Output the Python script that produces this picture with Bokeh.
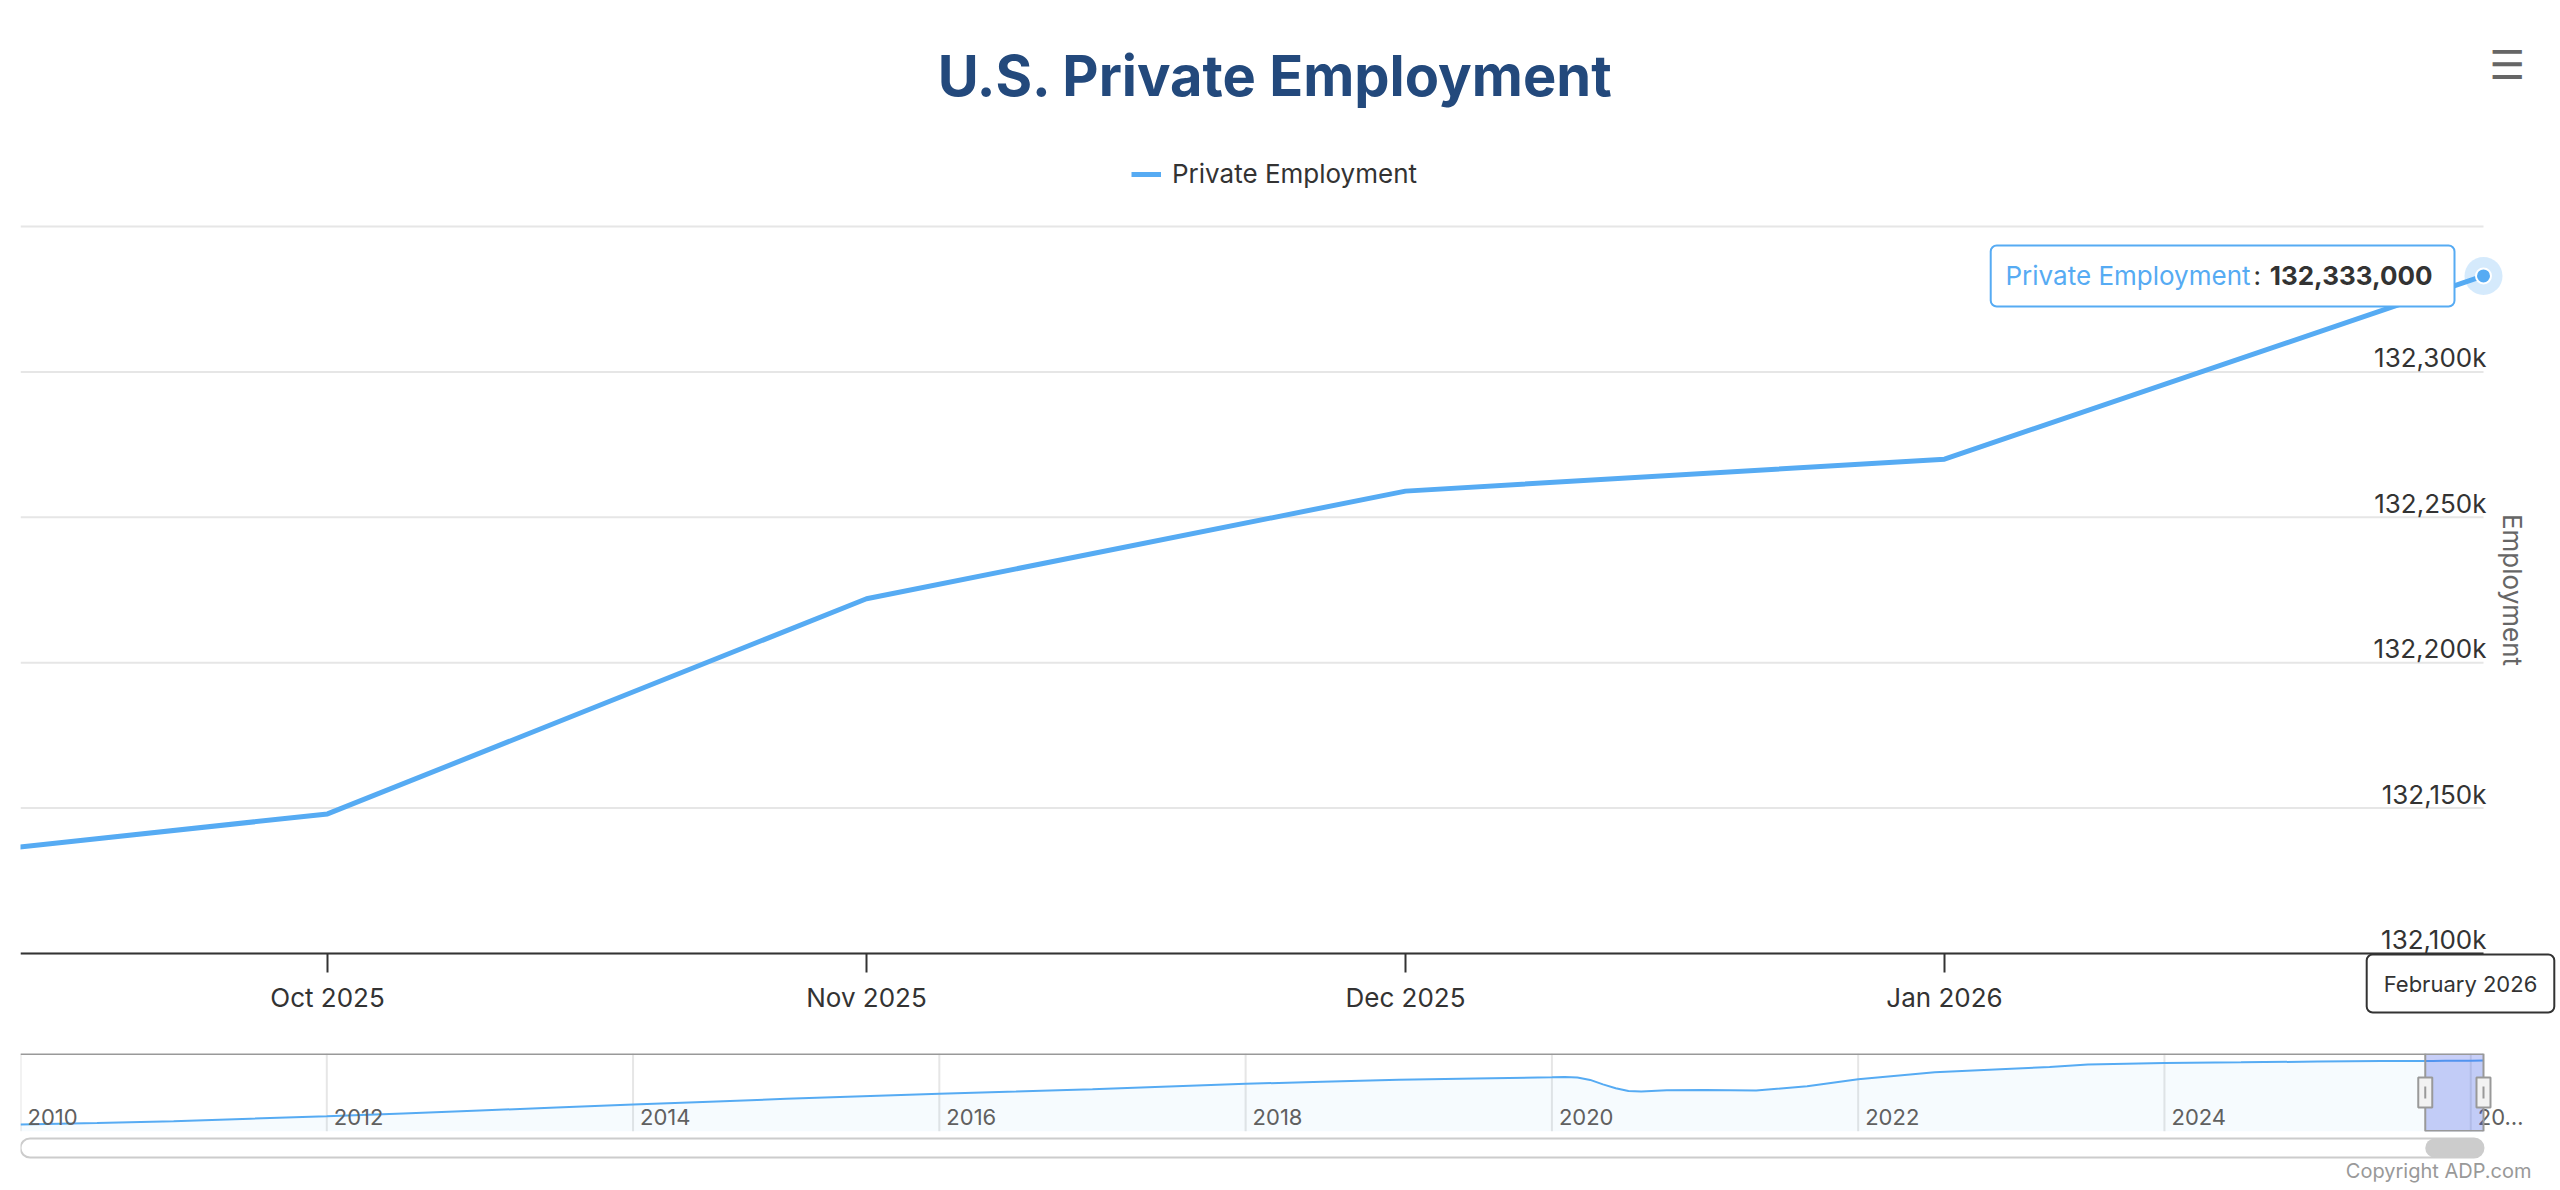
import math
from bokeh.plotting import figure
from bokeh.models import Range1d, Legend, LegendItem, Label
from bokeh.layouts import column
from bokeh.embed import file_html
from bokeh.resources import INLINE
from bokeh.core.properties import value

# ---------------- data ----------------
months = ["Sep 2025", "Oct 2025", "Nov 2025", "Dec 2025", "Jan 2026", "Feb 2026"]
month_index = [0, 1, 2, 3, 4, 5]
employment = [132128000, 132148000, 132222000, 132259000, 132270000, 132333000]

x_tick_index = [1, 2, 3, 4]
x_tick_labels = ["Oct 2025", "Nov 2025", "Dec 2025", "Jan 2026"]

y_grid_values = [132100000, 132150000, 132200000, 132250000, 132300000, 132350000]
y_tick_values = [132100000, 132150000, 132200000, 132250000, 132300000]
y_tick_labels = ["132,100k", "132,150k", "132,200k", "132,250k", "132,300k"]

series_name = "Private Employment"
chart_title = "U.S. Private Employment"
axis_title = "Employment"
tooltip_value = "132,333,000"
tooltip_date = "February 2026"
credits = "Copyright ADP.com"

# navigator (full history, millions)
nav_dates = ["2010-01", "2010-07", "2011-01", "2011-07", "2012-01", "2012-07", "2013-01", "2013-07",
             "2014-01", "2014-07", "2015-01", "2015-07", "2016-01", "2016-07", "2017-01", "2017-07",
             "2018-01", "2018-07", "2019-01", "2019-07", "2020-01", "2020-02", "2020-03", "2020-04",
             "2020-05", "2020-06", "2020-07", "2020-08", "2020-10", "2021-01", "2021-05", "2021-09",
             "2022-01", "2022-07", "2023-01", "2023-04", "2023-07", "2024-01", "2024-07", "2025-01",
             "2025-06", "2025-09", "2025-10", "2025-11", "2025-12", "2026-01", "2026-02"]
nav_values = [105.45, 106.10, 106.85, 107.90, 108.95, 110.10, 111.30, 112.60,
              113.85, 115.05, 116.25, 117.30, 118.35, 119.30, 120.30, 121.40,
              122.55, 123.45, 124.25, 124.80, 125.30, 125.40, 125.25, 124.20,
              122.30, 120.70, 119.50, 119.30, 119.80, 120.00, 119.70, 121.50,
              124.50, 127.40, 128.90, 129.60, 130.65, 131.35, 131.60, 131.90,
              132.10, 132.128, 132.148, 132.222, 132.259, 132.270, 132.333]
nav_year_ticks = [2010, 2012, 2014, 2016, 2018, 2020, 2022, 2024, 2026]
nav_year_labels = ["2010", "2012", "2014", "2016", "2018", "2020", "2022", "2024", "20\u2026"]
nav_selected = [2025.703, 2026.0833]

# ---------------- styles / layout ----------------
BLUE = "#56abf3"
FONT = "Inter"
W = 2556
LEFT = 20                       # left edge of plot area
FIG_A_H, FIG_B_H, FIG_C_H = 1040, 94, 52
PLOT_TOP, PLOT_BOTTOM = 226, 953   # pixel rows of the top and bottom grid lines
LAST_X_PX = 2483                   # pixel column of the last data point
MONTH_PX = 539                     # pixels per month


def bare(fig):
    fig.outline_line_color = None
    fig.background_fill_color = "white"
    fig.border_fill_color = "white"
    fig.grid.visible = False


# ---------------- main chart ----------------
x_start = 1 - (327 - LEFT) / MONTH_PX
x_end = month_index[-1] + (W - LAST_X_PX) / MONTH_PX
upp = (y_grid_values[-1] - y_grid_values[0]) / (PLOT_BOTTOM - PLOT_TOP)
y_start = y_grid_values[0] - (FIG_A_H - PLOT_BOTTOM) * upp
y_end = y_grid_values[-1] + PLOT_TOP * upp

p = figure(width=W, height=FIG_A_H, x_range=Range1d(x_start, x_end), y_range=Range1d(y_start, y_end),
           output_backend="svg", toolbar_location=None, x_axis_location=None, y_axis_location=None,
           min_border_left=LEFT, min_border_right=0, min_border_top=0, min_border_bottom=0)
bare(p)

# horizontal grid lines
n = len(y_grid_values)
p.segment(x0=[x_start] * n, x1=[month_index[-1]] * n, y0=y_grid_values, y1=y_grid_values,
          line_color="#e6e6e6", line_width=2)

# x axis
y0 = y_grid_values[0]
p.segment(x0=[x_start], x1=[month_index[-1]], y0=[y0], y1=[y0], line_color="#333333", line_width=2)
p.ray(x=x_tick_index, y=[y0] * len(x_tick_index), length=19, length_units="screen", angle=-math.pi / 2,
      line_color="#333333", line_width=2)
p.text(x=x_tick_index, y=[y0] * len(x_tick_index), text=x_tick_labels, text_align="center",
       text_baseline="middle", y_offset=44, text_font=value(FONT), text_font_size="26px",
       text_color="#333333")

# series
line = p.line(month_index, employment, line_color=BLUE, line_width=5, line_join="round")
p.scatter([month_index[-1]], [employment[-1]], size=38, fill_color=BLUE, fill_alpha=0.25, line_color=None)
p.scatter([month_index[-1]], [employment[-1]], size=15, fill_color=BLUE, line_color="white", line_width=2)

# y tick labels inside the plot area
p.text(x=[month_index[-1]] * len(y_tick_values), y=y_tick_values, text=y_tick_labels,
       text_align="right", text_baseline="middle", x_offset=3, y_offset=-14,
       text_font=value(FONT), text_font_size="26px", text_color="#333333")

# axis title
p.add_layout(Label(x=month_index[-1], y=(y_grid_values[0] + y_grid_values[-1]) / 2, text=axis_title,
                   angle=-math.pi / 2, x_offset=29, text_align="center", text_baseline="middle",
                   text_font=FONT, text_font_size="26px", text_color="#666666"))

# title
p.add_layout(Label(x=1275 - LEFT, y=FIG_A_H - 75, x_units="screen", y_units="screen", text=chart_title,
                   text_align="center", text_baseline="middle", text_font=FONT,
                   text_font_size="56px", text_font_style="bold", text_color="#23497c"))

# legend
legend = Legend(items=[LegendItem(label=series_name, renderers=[line])], orientation="horizontal",
                location=(1111, FIG_A_H - 189), border_line_color=None, background_fill_alpha=0,
                label_text_font=FONT, label_text_font_size="26px", label_text_color="#333333",
                glyph_width=30, glyph_height=20, label_standoff=11, margin=0, padding=0)
p.add_layout(legend)

# hamburger menu
p.add_layout(Label(x=2507 - LEFT, y=FIG_A_H - 64, x_units="screen", y_units="screen", text="\u2630",
                   text_align="center", text_baseline="middle", text_font="DejaVu Sans",
                   text_font_size="40px", text_font_style="bold", text_color="#666666"))

# tooltip for last point
p.add_layout(Label(x=month_index[-1], y=employment[-1], text=tooltip_value, x_offset=-29, y_offset=0,
                   text_align="right", text_baseline="middle", text_font=FONT, text_font_size="26px",
                   text_font_style="bold", text_color="#333333", background_fill_color="white",
                   border_line_color=BLUE, border_line_width=2, border_radius=6,
                   padding=dict(left=279, right=22, top=21, bottom=21)))
p.add_layout(Label(x=month_index[-1], y=employment[-1], text=series_name, x_offset=-478, y_offset=0,
                   text_align="left", text_baseline="middle", text_font=FONT, text_font_size="26px",
                   text_color=BLUE))
p.add_layout(Label(x=month_index[-1], y=employment[-1], text=":", x_offset=-230, y_offset=0,
                   text_align="left", text_baseline="middle", text_font=FONT, text_font_size="26px",
                   text_color="#333333"))

# x crosshair label
p.add_layout(Label(x=month_index[-1], y=y0, text=tooltip_date, x_offset=-23, y_offset=-30,
                   text_align="center", text_baseline="middle", text_font=FONT, text_font_size="22px",
                   text_color="#333333", background_fill_color="white", border_line_color="#333333",
                   border_line_width=2, border_radius=6, padding=dict(left=17, right=17, top=16, bottom=16)))

# ---------------- navigator ----------------
nav_x = [int(d[:4]) + (int(d[5:]) - 1) / 12 for d in nav_dates]
nav_lo, nav_hi = 102.5, 135.3
nav_end = nav_x[-1]
YEAR_PX = (LAST_X_PX - LEFT) / (nav_end - nav_year_ticks[0])
nav_range = Range1d(nav_year_ticks[0], nav_end + (W - LAST_X_PX) / YEAR_PX)

pb = figure(width=W, height=FIG_B_H, x_range=nav_range, y_range=Range1d(nav_lo, nav_hi),
            output_backend="svg", toolbar_location=None, x_axis_location=None, y_axis_location=None,
            min_border_left=LEFT, min_border_right=0, min_border_top=13, min_border_bottom=3)
bare(pb)
k = len(nav_year_ticks)
pb.segment(x0=nav_year_ticks, x1=nav_year_ticks, y0=[nav_lo] * k, y1=[nav_hi] * k,
           line_color="#e6e6e6", line_width=2)
pb.varea(x=nav_x, y1=[nav_lo] * len(nav_x), y2=nav_values, fill_color=BLUE, fill_alpha=0.05)
pb.line(nav_x, nav_values, line_color=BLUE, line_width=2)
pb.text(x=nav_year_ticks, y=[nav_lo] * k, text=nav_year_labels, x_offset=7, y_offset=-15,
        text_baseline="middle", text_align="left", text_font=value(FONT), text_font_size="22px",
        text_color="#606060")
pb.quad(left=[nav_selected[0]], right=[nav_selected[1]], bottom=[nav_lo], top=[nav_hi],
        fill_color="#485fe8", fill_alpha=0.3, line_color=None)
pb.segment(x0=[nav_year_ticks[0]], x1=[nav_end], y0=[nav_hi], y1=[nav_hi], line_color="#999999", line_width=3)
pb.segment(x0=nav_selected, x1=nav_selected, y0=[nav_lo, nav_lo], y1=[nav_hi, nav_hi],
           line_color="#999999", line_width=2)
pb.segment(x0=[nav_selected[0]], x1=[nav_selected[1]], y0=[nav_lo], y1=[nav_lo],
           line_color="#999999", line_width=3)
mid = (nav_lo + nav_hi) / 2
pb.rect(x=nav_selected, y=[mid, mid], width=14, height=30, width_units="screen", height_units="screen",
        fill_color="#f2f2f2", line_color="#999999", line_width=2)
pb.scatter(x=nav_selected, y=[mid, mid], marker="dash", angle=math.pi / 2, size=12,
           line_color="#999999", line_width=2)

# ---------------- scrollbar + credits ----------------
pc = figure(width=W, height=FIG_C_H, x_range=nav_range, y_range=Range1d(0, 1),
            output_backend="svg", toolbar_location=None, x_axis_location=None, y_axis_location=None,
            min_border_left=LEFT, min_border_right=0, min_border_top=0, min_border_bottom=0)
bare(pc)
tb, tt = (FIG_C_H - 23) / FIG_C_H, (FIG_C_H - 4) / FIG_C_H
pc.quad(left=[nav_year_ticks[0]], right=[nav_end], bottom=[tb], top=[tt], fill_color="white",
        line_color="#cccccc", line_width=2, border_radius=10)
pc.quad(left=[nav_selected[0]], right=[nav_selected[1]], bottom=[tb], top=[tt], fill_color="#cccccc",
        line_color=None, border_radius=10)
pc.add_layout(Label(x=nav_end, y=0, text=credits, x_offset=48, y_offset=16, text_align="right",
                    text_baseline="middle", text_font=FONT, text_font_size="20px", text_color="#999999"))

layout = column(p, pb, pc, spacing=0)
open("out.html", "w").write(file_html(layout, INLINE))
